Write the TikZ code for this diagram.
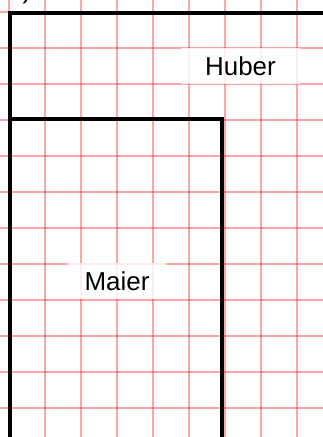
\documentclass[tikz,border=0pt]{standalone}
\usepackage{fontspec}
\setmainfont{Liberation Sans}
\begin{document}
\begin{tikzpicture}[
  x=1cm, y=-1cm,
  gridline/.style={red, draw opacity=0.35, line width=1.4pt},
  wall/.style={black, line width=3pt, line cap=rect},
  owner/.style={
    rectangle, fill=white, fill opacity=0.8, text opacity=1,
    minimum height=1cm, inner sep=0pt,
    font=\fontsize{20.5}{24}\selectfont
  },
]

% Picture frame (one grid cell is 1cm)
\clip (0,0) rectangle (8.972,12.139);

% Grid
\foreach \x in {0.25,1.25,...,8.25} {
  \draw[gridline] (\x,0) -- (\x,12.2);
}
\foreach \y in {0.333,1.333,...,11.4} {
  \draw[gridline] (0,\y) -- (9.1,\y);
}

% Panel tag, mostly cut off
\node[anchor=base west, inner sep=0pt, font=\fontsize{20.5}{24}\selectfont] (tag) at (0.22,-0.03) {b)};

% Plots
\draw[wall] (0.27,12.3) -- (0.27,0.36) -- (9.1,0.36);
\draw[wall] (0.27,3.3) -- (6.17,3.3) -- (6.17,12.3);

% Owners
\node[owner, minimum width=3.3cm] (huber) at (6.68,1.83) {Huber};
\node[owner, minimum width=2.7cm] (maier) at (3.25,7.8) {Maier};

\end{tikzpicture}
\end{document}
